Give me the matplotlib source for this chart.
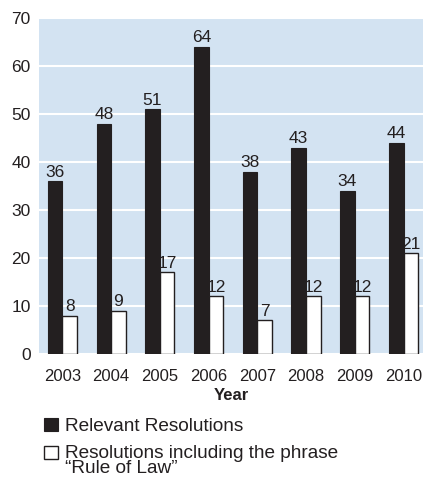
import numpy as np
import matplotlib.pyplot as plt
from matplotlib.patches import Rectangle

plt.rcParams['font.family'] = ['Liberation Sans', 'DejaVu Sans']

# Data
years = ['2003', '2004', '2005', '2006', '2007', '2008', '2009', '2010']
relevant = [36, 48, 51, 64, 38, 43, 34, 44]
rule_of_law = [8, 9, 17, 12, 7, 12, 12, 21]

dark = '#231f20'
bg = '#d3e3f2'
W, H = 423, 478

fig = plt.figure(figsize=(W / 100, H / 100), dpi=100)
ax = fig.add_axes([39 / W, 1 - 354 / H, 1 - 39 / W, 336 / H])
ax.set_facecolor(bg)

x = np.arange(len(years))
w = 0.3
b1 = ax.bar(x - w / 2, relevant, w, color=dark, edgecolor=dark, linewidth=0.8, zorder=3)
b2 = ax.bar(x + w / 2, rule_of_law, w, color='white', edgecolor=dark, linewidth=1.0, zorder=3)
ax.bar_label(b1, padding=1, fontsize=12.5, color=dark)
ax.bar_label(b2, padding=1, fontsize=12.5, color=dark)

ax.set_ylim(0, 70)
ax.set_xlim(-0.48, 7.4)
ax.set_yticks(range(0, 71, 10))
ax.set_xticks(x)
ax.set_xticklabels(years)
ax.tick_params(axis='y', length=0, labelsize=12.5, colors=dark, pad=6)
ax.tick_params(axis='x', length=0, labelsize=12, colors=dark, pad=11)
ax.yaxis.grid(True, color='white', linewidth=1.5, zorder=0)
ax.set_axisbelow(True)
for s in ax.spines.values():
    s.set_visible(False)
ax.set_xlabel('Year', fontsize=12, fontweight='bold', color=dark, labelpad=3)

# legend drawn by hand so the box lines up with the first text line
def fx(px):
    return px / W

def fy(py):
    return 1 - py / H

fig.patches.append(Rectangle((fx(44), fy(431)), 14 / W, 13 / H, transform=fig.transFigure,
                             facecolor=dark, edgecolor=dark, linewidth=0.8))
fig.patches.append(Rectangle((fx(44), fy(459)), 14 / W, 13 / H, transform=fig.transFigure,
                             facecolor='white', edgecolor=dark, linewidth=1.0))
fig.text(fx(65), fy(431), 'Relevant Resolutions', fontsize=13.7, color=dark, va='baseline')
fig.text(fx(65), fy(445), 'Resolutions including the phrase\n\u201cRule of Law\u201d',
         fontsize=13.7, color=dark, va='top', linespacing=0.85)

fig.savefig('out.png', dpi=100)
